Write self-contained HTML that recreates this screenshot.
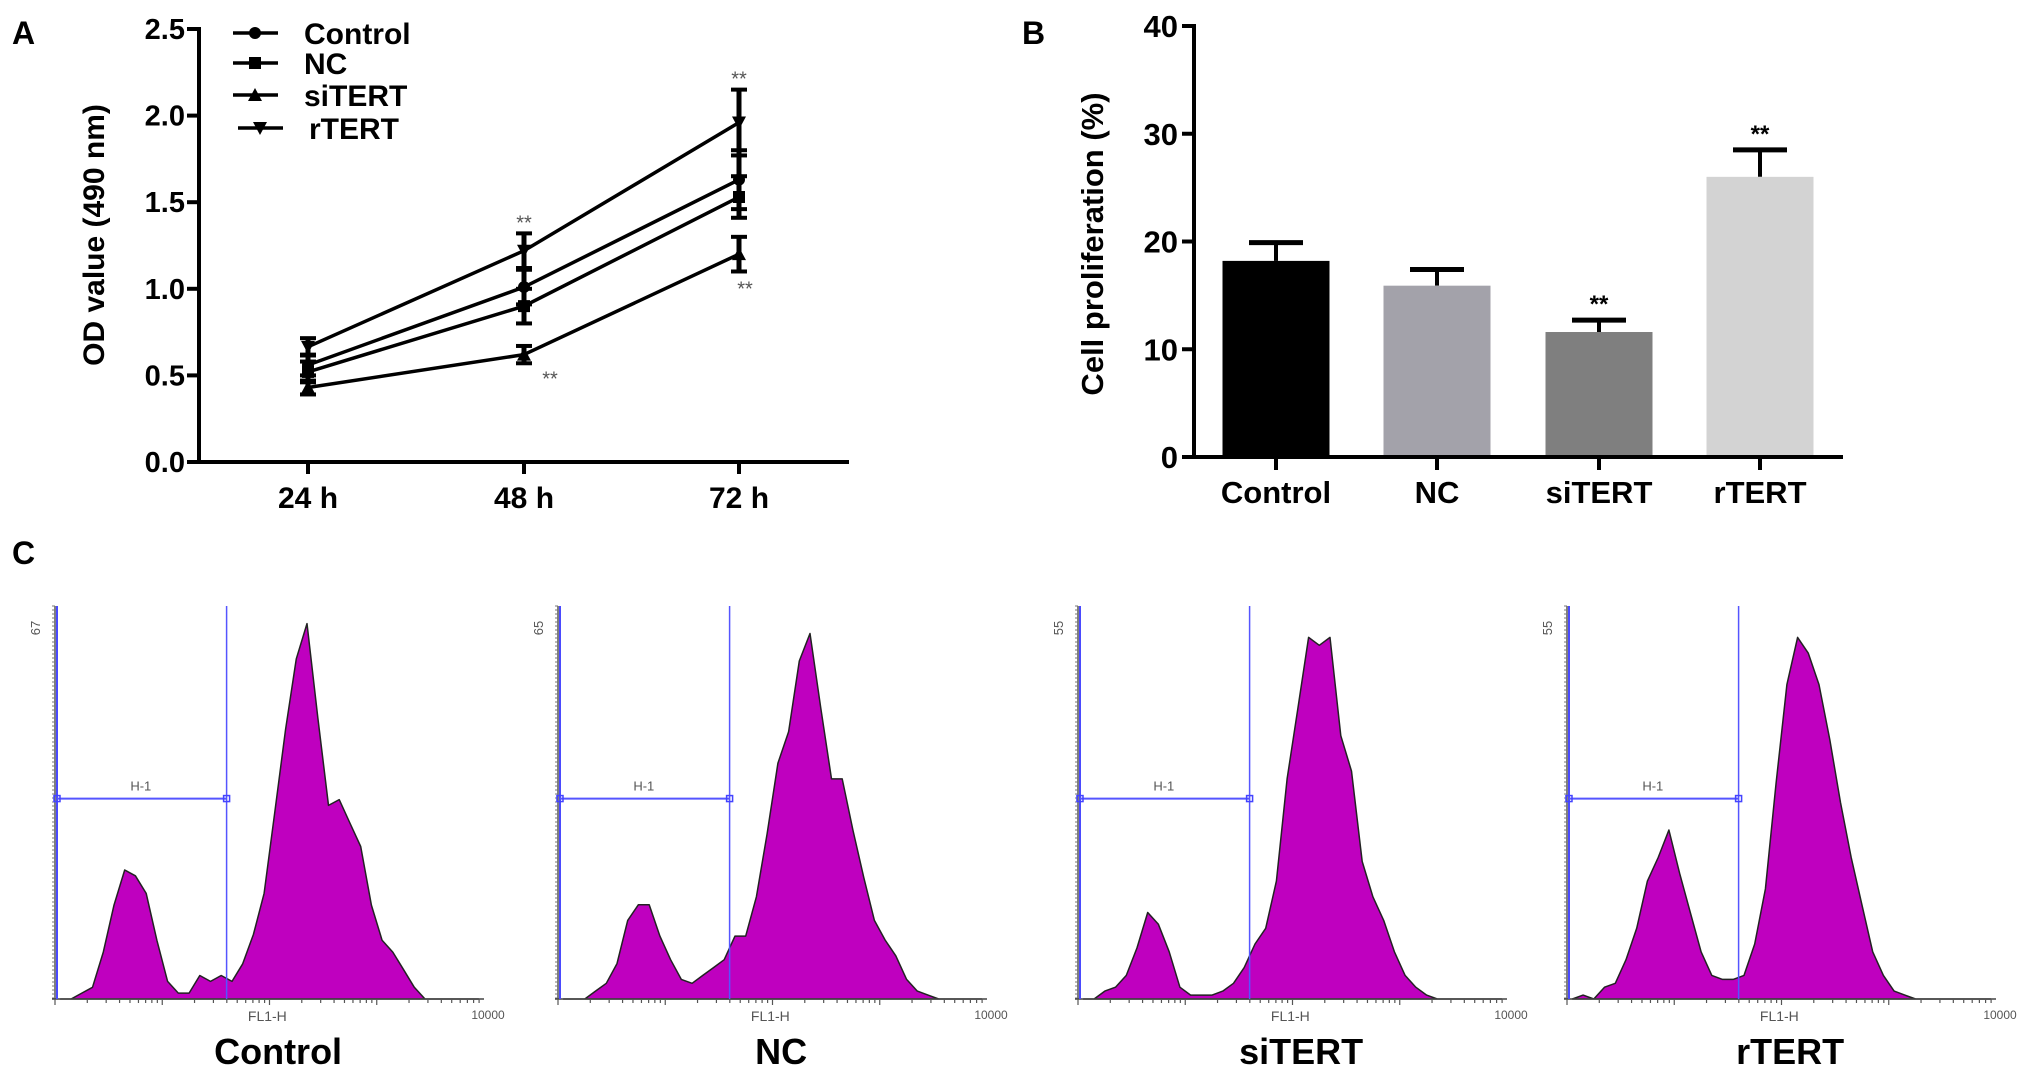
<!DOCTYPE html>
<html><head><meta charset="utf-8"><style>
html,body{margin:0;padding:0;background:#fff;}
svg{display:block;}
.t{font-family:"Liberation Sans Narrow","Liberation Sans",Arial,sans-serif;font-weight:bold;fill:#000;}
.w{font-family:"Liberation Sans",Arial,sans-serif;font-weight:bold;fill:#000;}
.s{font-family:"Liberation Sans",Arial,sans-serif;fill:#555;}
</style></head><body>
<svg id="fig" width="2031" height="1080" viewBox="0 0 2031 1080" xmlns="http://www.w3.org/2000/svg">
<text x="12" y="44" class="w" font-size="32">A</text>
<text x="1022" y="44" class="w" font-size="32">B</text>
<text x="12" y="564" class="w" font-size="32">C</text>
<g id="pa"></g>
<g id="pb"></g>
<g id="pc"></g>
</svg>
<script>
// ---- Panel A data ----
const timeCats = ["24 h","48 h","72 h"];
const odTicks = [0,0.5,1.0,1.5,2.0,2.5];
const odSeriesNames = ["Control","NC","siTERT","rTERT"];
const odControl = [0.56,1.01,1.63];
const odNC = [0.52,0.90,1.53];
const odSiTERT = [0.43,0.62,1.20];
const odRTERT = [0.665,1.22,1.96];
const errControl = [0.06,0.10,0.17];
const errNC = [0.06,0.10,0.12];
const errSiTERT = [0.04,0.05,0.10];
const errRTERT = [0.05,0.10,0.19];
// ---- Panel B data ----
const barCats = ["Control","NC","siTERT","rTERT"];
const barValues = [18.2,15.9,11.6,26.0];
const barErrors = [1.7,1.5,1.1,2.5];
const barTicks = [0,10,20,30,40];
const barSig = ["","","**","**"];
// ---- Panel C data (counts per 0.1-decade bin) ----
const histNames = ["Control","NC","siTERT","rTERT"];
const histMax = [67,65,55,55];
const histControl = [0,0,1,2,8,16,22,21,18,10,3,1,1,4,3,4,3,6,11,18,32,46,58,64,48,33,34,30,26,16,10,8,5,2,0,0,0,0,0,0];
const histNCfrac = [0,0,0,0.02,0.04,0.09,0.2,0.24,0.24,0.16,0.1,0.05,0.04,0.06,0.08,0.1,0.16,0.16,0.26,0.42,0.6,0.68,0.86,0.93,0.74,0.56,0.56,0.43,0.31,0.2,0.15,0.11,0.05,0.02,0.01,0,0,0,0,0];
const histSiFrac = [0,0,0.02,0.03,0.06,0.13,0.22,0.19,0.12,0.03,0.01,0.01,0.01,0.02,0.04,0.08,0.14,0.18,0.3,0.56,0.74,0.92,0.9,0.92,0.67,0.58,0.35,0.26,0.2,0.12,0.06,0.03,0.01,0,0,0,0,0,0,0];
const histRFrac = [0,0.01,0,0.03,0.04,0.1,0.18,0.3,0.36,0.43,0.32,0.22,0.12,0.06,0.05,0.05,0.06,0.14,0.28,0.55,0.8,0.92,0.88,0.8,0.66,0.5,0.36,0.24,0.12,0.06,0.02,0.01,0,0,0,0,0,0,0,0];
const histNC = histNCfrac.map(v=>v*65);
const histSi = histSiFrac.map(v=>v*55);
const histR = histRFrac.map(v=>v*55);
const histData = [histControl,histNC,histSi,histR];
const gateDecade = 1.6;
const gateLevel = 0.51;

const NS="http://www.w3.org/2000/svg";
function mk(parent,tag,attrs,name,inter){const e=document.createElementNS(NS,tag);for(const k in attrs)e.setAttribute(k,attrs[k]);


parent.appendChild(e);return e;}
function txt(parent,x,y,s,cls,size,anchor,name,extra){const e=mk(parent,'text',Object.assign({x:x,y:y,class:cls,'font-size':size,'text-anchor':anchor||'middle'},extra||{}),name,false);e.textContent=s;return e;}

// ===== Panel A =====
(function(){
const g=document.getElementById('pa');
const X0=199,Y0=462,YT=29,XE=849;
const xs=[308,524,739];
const yA=v=>Y0-(v/2.5)*(Y0-YT);
const xA=i=>xs[i];
mk(g,'line',{x1:X0,y1:YT-2,x2:X0,y2:Y0+2,stroke:'#000','stroke-width':4},'y-axis',false);
mk(g,'line',{x1:X0-12,y1:Y0,x2:XE,y2:Y0,stroke:'#000','stroke-width':4},'x-axis',false);
odTicks.forEach(v=>{const y=yA(v);
mk(g,'line',{x1:X0-12,y1:y,x2:X0,y2:y,stroke:'#000','stroke-width':4},'y-tick',false);
txt(g,X0-14,y+10,v.toFixed(1),'t',29,'end','y-tick-label');});
timeCats.forEach((c,i)=>{mk(g,'line',{x1:xA(i),y1:Y0,x2:xA(i),y2:Y0+12,stroke:'#000','stroke-width':4},'x-tick',false);
txt(g,xA(i),Y0+46,c,'t',30,'middle','x-tick-label');});
txt(g,0,0,'OD value (490 nm)','w',30,'middle','y-axis-title',{transform:'translate(104,235) rotate(-90)'});
const series=[odControl,odNC,odSiTERT,odRTERT],errs=[errControl,errNC,errSiTERT,errRTERT];
const markers=['circle','square','up','down'];
function marker(p,x,y,type,name){
 if(type==='circle')mk(p,'circle',{cx:x,cy:y,r:6,fill:'#000'},name,false);
 else if(type==='square')mk(p,'rect',{x:x-6,y:y-6,width:12,height:12,fill:'#000'},name,false);
 else if(type==='up')mk(p,'polygon',{points:`${x},${y-7} ${x-7},${y+6} ${x+7},${y+6}`,fill:'#000'},name,false);
 else mk(p,'polygon',{points:`${x},${y+7} ${x-7},${y-6} ${x+7},${y-6}`,fill:'#000'},name,false);}
series.forEach((s,k)=>{
 const sg=mk(g,'g',{},'series-'+odSeriesNames[k].toLowerCase(),false);
 mk(sg,'polyline',{points:s.map((v,i)=>xA(i)+','+yA(v)).join(' '),fill:'none',stroke:'#000','stroke-width':3.5},'line-'+odSeriesNames[k].toLowerCase(),false);
 s.forEach((v,i)=>{const x=xA(i),e=errs[k][i];
  mk(sg,'line',{x1:x,y1:yA(v+e),x2:x,y2:yA(v-e),stroke:'#000','stroke-width':5},'error-bar',false);
  mk(sg,'line',{x1:x-8,y1:yA(v+e),x2:x+8,y2:yA(v+e),stroke:'#000','stroke-width':4},'error-cap',false);
  mk(sg,'line',{x1:x-8,y1:yA(v-e),x2:x+8,y2:yA(v-e),stroke:'#000','stroke-width':4},'error-cap',false);
  marker(sg,x,yA(v),markers[k],'point-'+odSeriesNames[k].toLowerCase());});
});
txt(g,xA(1),yA(odRTERT[1]+errRTERT[1])-4,'**','s',20,'middle','sig-rtert-48h');
txt(g,xA(1)+26,yA(odSiTERT[1]-errSiTERT[1])+22,'**','s',20,'middle','sig-sitert-48h');
txt(g,xA(2),yA(odRTERT[2]+errRTERT[2])-4,'**','s',20,'middle','sig-rtert-72h');
txt(g,xA(2)+6,yA(odSiTERT[2]-errSiTERT[2])+24,'**','s',20,'middle','sig-sitert-72h');
const lg=mk(g,'g',{},'legend',false);
const ly=[33,63,95,128];
odSeriesNames.forEach((n,k)=>{const dx=k===3?5:0;
 const e=mk(lg,'g',{},'legend-entry',false);
 mk(e,'line',{x1:233+dx,y1:ly[k],x2:278+dx,y2:ly[k],stroke:'#000','stroke-width':3.5},'legend-line',false);
 marker(e,255+dx,ly[k],markers[k],'legend-marker');
 txt(e,304+dx,ly[k]+11,n,'w',30,'start','legend-label');});
})();

// ===== Panel B =====
(function(){
const g=document.getElementById('pb');
const X0=1194,Y0=457,YT=26,XE=1843;
const centers=[1276,1437,1599,1760],BW=107;
const yB=v=>Y0-(v/40)*(Y0-YT);
const colors=['#000000','#a3a2aa','#7f7f7f','#d3d3d3'];
barCats.forEach((c,i)=>{const x=centers[i],v=barValues[i],e=barErrors[i];
 mk(g,'line',{x1:x,y1:yB(v),x2:x,y2:yB(v+e),stroke:'#000','stroke-width':4},'error-bar-'+c.toLowerCase(),false);
 mk(g,'line',{x1:x-27,y1:yB(v+e),x2:x+27,y2:yB(v+e),stroke:'#000','stroke-width':5},'error-cap-'+c.toLowerCase(),false);
 mk(g,'rect',{x:x-BW/2,y:yB(v),width:BW,height:Y0-yB(v),fill:colors[i]},'bar-'+c.toLowerCase(),false);
 if(barSig[i])txt(g,x,yB(v+e)-8,barSig[i],'w',24,'middle','sig-'+c.toLowerCase(),{fill:'#333'});
 mk(g,'line',{x1:x,y1:Y0,x2:x,y2:Y0+13,stroke:'#000','stroke-width':4},'x-tick',false);
 txt(g,x,Y0+46,c,'t',31,'middle','x-tick-label');});
mk(g,'line',{x1:X0,y1:YT-2,x2:X0,y2:Y0+2,stroke:'#000','stroke-width':4},'y-axis',false);
mk(g,'line',{x1:X0-12,y1:Y0,x2:XE,y2:Y0,stroke:'#000','stroke-width':4},'x-axis',false);
barTicks.forEach(v=>{const y=yB(v);
 mk(g,'line',{x1:X0-12,y1:y,x2:X0,y2:y,stroke:'#000','stroke-width':4},'y-tick',false);
 txt(g,X0-16,y+11,String(v),'t',31,'end','y-tick-label');});
txt(g,0,0,'Cell proliferation (%)','w',31,'middle','y-axis-title',{transform:'translate(1103,244) rotate(-90)'});
})();

// ===== Panel C =====
(function(){
const g=document.getElementById('pc');
const axes=[55,558,1078,1567],TOP=606,BASE=999,W=429;
histNames.forEach((n,p)=>{
 const hg=mk(g,'g',{},'histogram-'+n.toLowerCase(),false);
 const X0=axes[p],data=histData[p],mx=histMax[p];
 const xH=d=>X0+(d/4)*W;
 const yH=c=>BASE-(c/mx)*(BASE-TOP);
 let pts=[[xH(0.05),BASE]];
 data.forEach((c,i)=>{pts.push([xH(i*0.1+0.05),yH(c)]);});
 pts.push([xH(3.95),BASE]);
 mk(hg,'polygon',{points:pts.map(q=>q[0].toFixed(1)+','+q[1].toFixed(1)).join(' '),fill:'#bf00bf',stroke:'#222','stroke-width':1.5,'stroke-linejoin':'round'},'histogram-area',false);
 mk(hg,'line',{x1:X0,y1:TOP,x2:X0,y2:BASE,stroke:'#555','stroke-width':1.5},'hist-y-axis',false);
 for(let y=TOP;y<=BASE;y+=4)mk(hg,'line',{x1:X0-3,y1:y,x2:X0,y2:y,stroke:'#777','stroke-width':1},'hist-y-tick',false);
 mk(hg,'line',{x1:X0-3,y1:BASE,x2:X0+W,y2:BASE,stroke:'#444','stroke-width':1.5},'hist-x-axis',false);
 for(let d=0;d<4;d++)for(let m=1;m<10;m++){const x=xH(d+Math.log10(m));
  mk(hg,'line',{x1:x,y1:BASE,x2:x,y2:BASE+(m===1?6:4),stroke:'#555','stroke-width':1.2},'hist-x-tick',false);}
 txt(hg,0,0,String(mx),'s',13,'middle','hist-y-max',{transform:`translate(${X0-15},${TOP+22}) rotate(-90)`});
 txt(hg,X0+W+4,BASE+20,'10000','s',12,'middle','hist-x-max');
 txt(hg,X0+W*0.495,BASE+22,'FL1-H','s',14,'middle','hist-x-title');
 const gx=xH(gateDecade),gy=BASE-gateLevel*(BASE-TOP);
 mk(hg,'line',{x1:X0+2,y1:TOP,x2:X0+2,y2:BASE,stroke:'#4a4aff','stroke-width':2},'gate-left',false);
 mk(hg,'line',{x1:gx,y1:TOP,x2:gx,y2:BASE,stroke:'#5555ff','stroke-width':1.5},'gate-right',false);
 mk(hg,'line',{x1:X0+2,y1:gy,x2:gx,y2:gy,stroke:'#5555ff','stroke-width':2},'gate-bar',false);
 mk(hg,'rect',{x:X0-1,y:gy-3,width:6,height:6,fill:'none',stroke:'#4444ff','stroke-width':1.5},'gate-handle',true);
 mk(hg,'rect',{x:gx-3,y:gy-3,width:6,height:6,fill:'none',stroke:'#4444ff','stroke-width':1.5},'gate-handle',true);
 txt(hg,(X0+gx)/2,gy-8,'H-1','s',13,'middle','gate-label');
 txt(hg,X0+W*0.52,1064,n,'w',36,'middle','histogram-title');
});
})();
</script>
</body></html>
